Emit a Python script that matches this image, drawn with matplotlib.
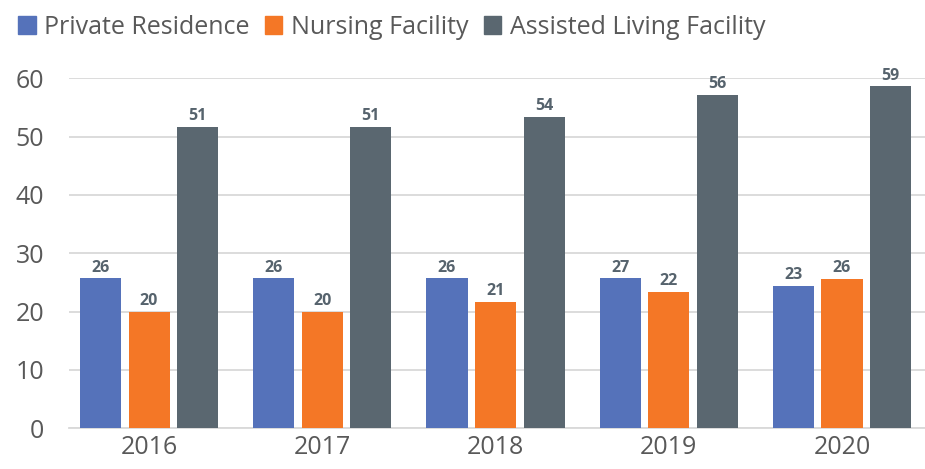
import numpy as np
import matplotlib.pyplot as plt
from matplotlib.patches import Patch

# data
YEARS = ["2016", "2017", "2018", "2019", "2020"]
SERIES = ["Private Residence", "Nursing Facility", "Assisted Living Facility"]
private_vals = [25.7, 25.7, 25.7, 25.7, 24.4]
nursing_vals = [20.0, 20.0, 21.7, 23.4, 25.6]
assisted_vals = [51.7, 51.7, 53.4, 57.1, 58.6]
private_labels = [26, 26, 26, 27, 23]
nursing_labels = [20, 20, 21, 22, 26]
assisted_labels = [51, 51, 54, 56, 59]

COLORS = ["#5572BA", "#F47726", "#5A6770"]
TEXT = "#595959"
LABEL = "#56636D"
FONT = ["Open Sans", "DejaVu Sans"]

plt.rcParams["font.family"] = FONT

fig = plt.figure(figsize=(9.25, 4.69), dpi=100)
ax = fig.add_axes([69 / 925, 1 - 428.3 / 469, 1 - 69 / 925, (428.3 - 78.3) / 469])

x = np.arange(len(YEARS))
width = 0.237
step = 0.28
values = [private_vals, nursing_vals, assisted_vals]
labels = [private_labels, nursing_labels, assisted_labels]

for i, (vals, labs) in enumerate(zip(values, labels)):
    pos = x + (i - 1) * step
    ax.bar(pos, vals, width=width, color=COLORS[i], zorder=3)
    for px, v, lab in zip(pos, vals, labs):
        ax.annotate(str(lab), xy=(px, v), xytext=(0, 2), textcoords="offset points",
                    ha="center", va="bottom", fontsize=11.5, fontweight="bold", color=LABEL)

ax.set_ylim(0, 60)
ax.set_xlim(-0.462, 4.479)
ax.set_yticks(range(0, 61, 10))
ax.set_xticks(x)
ax.set_xticklabels(YEARS)
ax.yaxis.grid(True, color="#D9D9D9", linewidth=1.3, zorder=0)
ax.set_axisbelow(True)
for s in ["top", "right", "left"]:
    ax.spines[s].set_visible(False)
ax.spines["bottom"].set_color("#D9D9D9")
ax.spines["bottom"].set_linewidth(1.3)
ax.tick_params(axis="both", length=0, labelsize=18, labelcolor=TEXT)
ax.tick_params(axis="y", pad=18)
ax.tick_params(axis="x", pad=5)

handles = [Patch(color=c) for c in COLORS]
fig.legend(handles, SERIES, loc="upper left", bbox_to_anchor=(0.006, 0.995), ncol=3,
           frameon=False, fontsize=18, labelcolor=TEXT, handlelength=0.7,
           handleheight=0.75, handletextpad=0.35, columnspacing=0.6, borderaxespad=0.1)

fig.savefig("out.png", dpi=100)
